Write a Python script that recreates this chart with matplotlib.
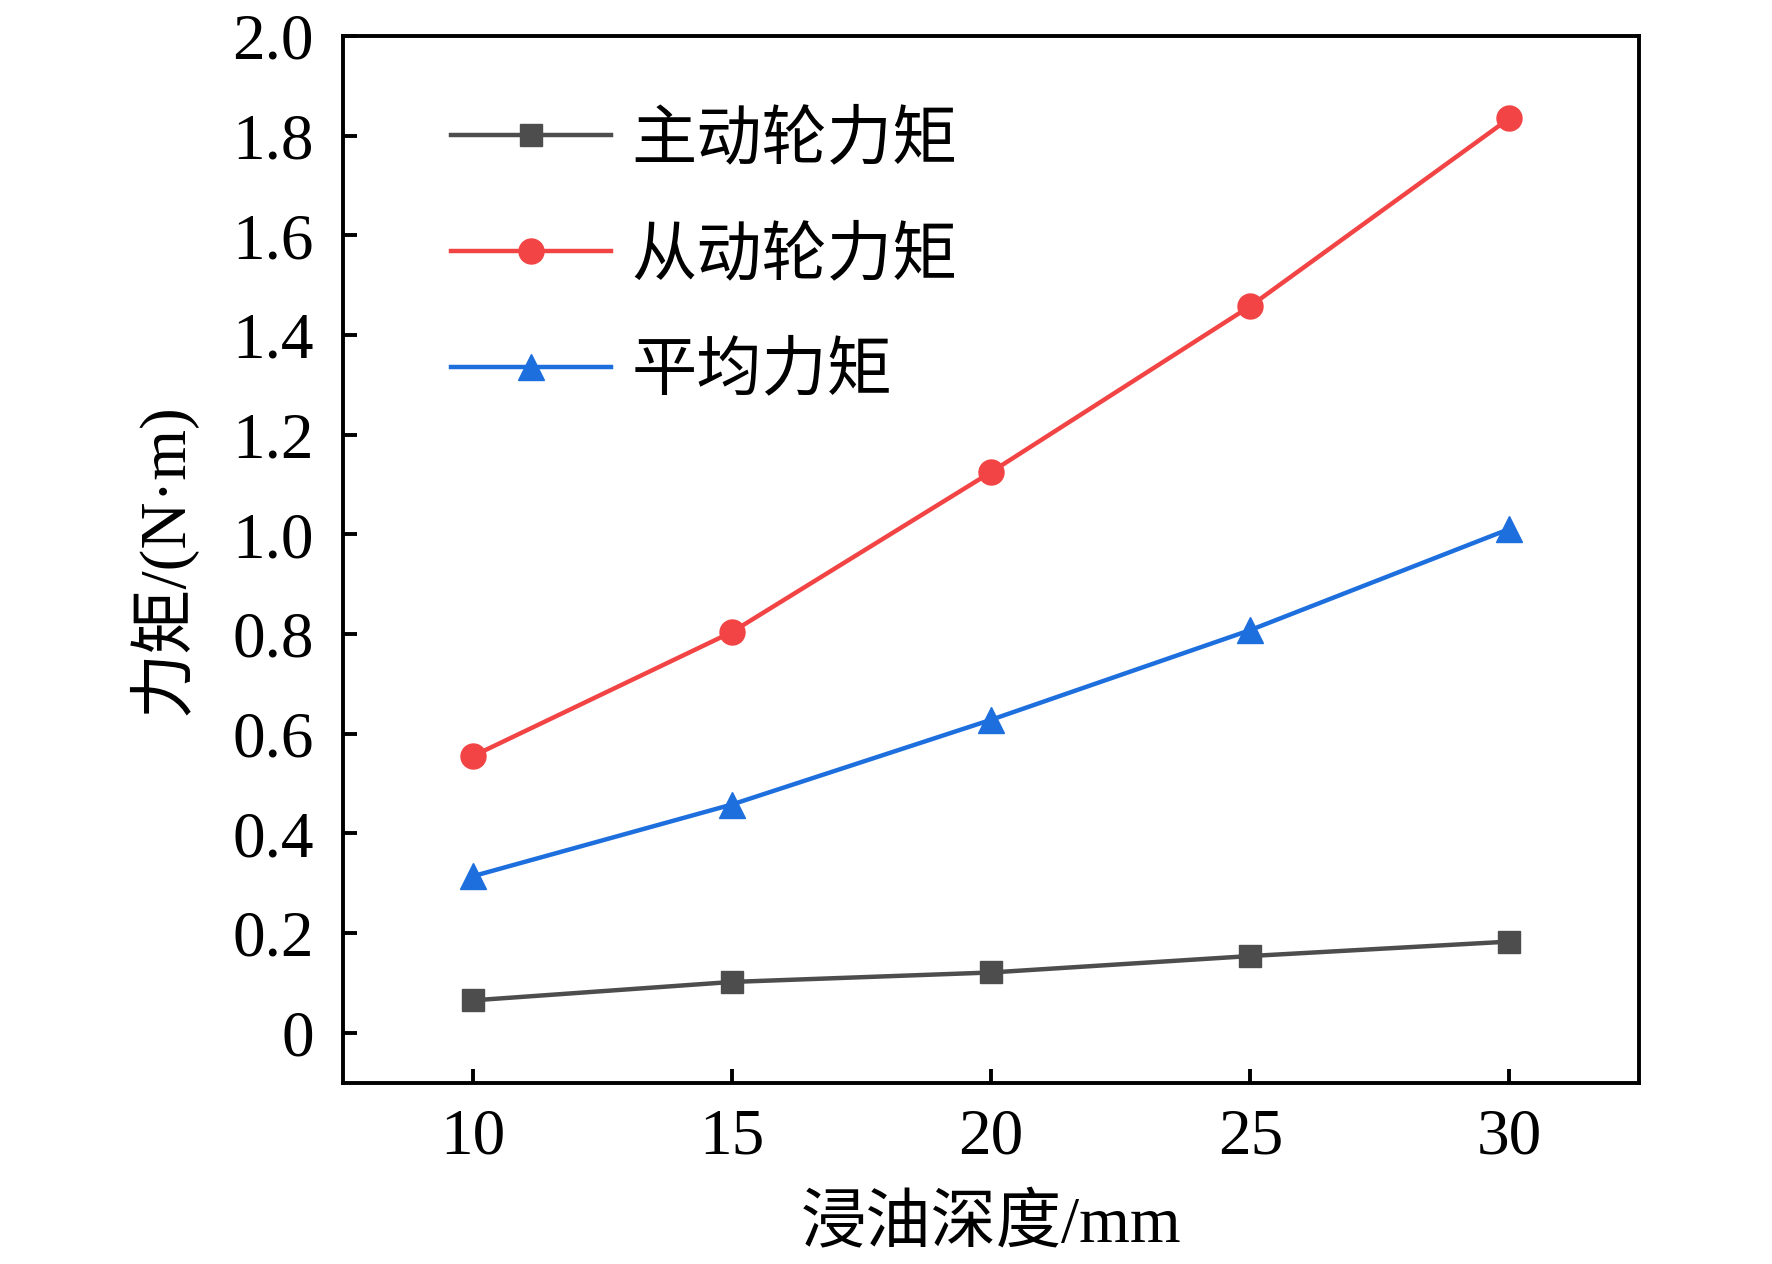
import matplotlib.pyplot as plt

plt.rcParams['font.family'] = ['Liberation Serif', 'Noto Sans CJK SC']
plt.rcParams['axes.unicode_minus'] = False

# data
depth = [10, 15, 20, 25, 30]
drive_torque = [0.065, 0.102, 0.121, 0.154, 0.183]
driven_torque = [0.555, 0.804, 1.125, 1.458, 1.835]
mean_torque = [0.314, 0.458, 0.628, 0.808, 1.011]

labels = ['主动轮力矩', '从动轮力矩', '平均力矩']
y_ticks = [0, 0.2, 0.4, 0.6, 0.8, 1.0, 1.2, 1.4, 1.6, 1.8, 2.0]
y_ticklabels = ['0', '0.2', '0.4', '0.6', '0.8', '1.0', '1.2', '1.4', '1.6', '1.8', '2.0']

fig = plt.figure(figsize=(17.72, 12.64), dpi=100)
ax = fig.add_axes([0.1936, 0.1435, 0.7314, 0.828])

ax.plot(depth, drive_torque, color='#4D4D4D', marker='s', ms=16, lw=3.2, label=labels[0])
ax.plot(depth, driven_torque, color='#F24444', marker='o', ms=18, lw=3.2, label=labels[1])
ax.plot(depth, mean_torque, color='#1E6FDE', marker='^', ms=19, lw=3.2, label=labels[2])

ax.set_xlim(7.5, 32.5)
ax.set_ylim(-0.1, 2.0)
ax.set_xticks(depth)
ax.set_yticks(y_ticks)
ax.set_yticklabels(y_ticklabels)

for sp in ax.spines.values():
    sp.set_linewidth(2.8)
ax.tick_params(direction='in', length=10, width=2.8, labelsize=47)
ax.tick_params(axis='y', pad=21)
ax.tick_params(axis='x', pad=18)

ax.set_xlabel('浸油深度/mm', fontsize=47, labelpad=20)
ax.set_ylabel('力矩/(N·m)', fontsize=47, labelpad=26)

ax.legend(loc='upper left', bbox_to_anchor=(0.083, 0.928), frameon=False,
          fontsize=47, handlelength=2.45, handletextpad=0.32,
          labelspacing=0.84, borderpad=0, borderaxespad=0)

fig.savefig('out.png', dpi=100)
